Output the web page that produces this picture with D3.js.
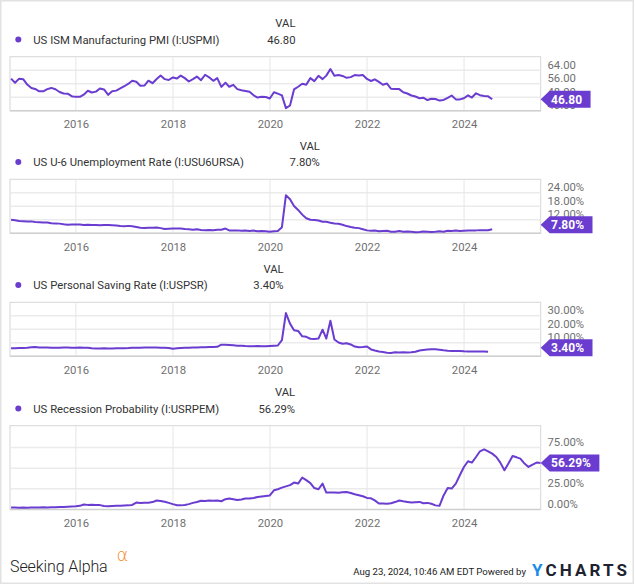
<!DOCTYPE html>
<html><head><meta charset="utf-8">
<script src="https://cdn.jsdelivr.net/npm/d3@7"></script>
<style>
body{margin:0;background:#fff;}
svg{display:block;font-family:Roboto,"Liberation Sans",sans-serif;}
</style>
</head><body>
<svg id="chart" width="635" height="585"></svg>
<script>
// ---------- DATA (monthly, first point = Aug 2014, dated at month end) ----------
const seriesNames = [
  "US ISM Manufacturing PMI (I:USPMI)",
  "US U-6 Unemployment Rate (I:USU6URSA)",
  "US Personal Saving Rate (I:USPSR)",
  "US Recession Probability (I:USRPEM)"
];
const startYear = 2014, startMonth = 7; // August (0-based)
const yearTicks = [2016, 2018, 2020, 2022, 2024];

const pmiValues = [
  59.0, 56.6, 59.0, 58.7, 55.5,
  53.5, 52.9, 51.5, 51.5, 52.8, 53.5, 52.7, 51.1, 50.2, 50.1, 48.6, 48.2,
  48.2, 49.5, 51.8, 50.8, 51.3, 53.2, 52.6, 49.4, 51.5, 51.9, 53.2, 54.5,
  56.0, 57.7, 57.2, 54.8, 54.9, 57.8, 56.3, 58.8, 60.8, 58.7, 58.2, 59.7,
  59.1, 60.8, 59.3, 57.3, 58.7, 60.2, 58.1, 61.3, 59.8, 57.7, 59.3, 54.1,
  56.6, 54.2, 55.3, 52.8, 52.1, 51.7, 51.2, 49.1, 47.8, 48.3, 48.1, 47.2,
  50.9, 50.1, 49.1, 41.5, 43.1, 52.6, 54.2, 56.0, 55.4, 59.3, 57.5, 60.7,
  58.7, 60.8, 64.7, 60.7, 61.2, 60.6, 59.5, 59.9, 61.1, 60.8, 61.1, 58.8,
  57.6, 58.6, 57.1, 55.4, 56.1, 53.0, 52.8, 52.8, 50.9, 50.2, 49.0, 48.4,
  47.4, 47.7, 46.3, 47.1, 46.9, 46.0, 46.4, 47.6, 49.0, 46.7, 46.7, 47.4,
  49.1, 47.8, 50.3, 49.2, 48.7, 48.5, 46.8
];
const u6Values = [
  12.0, 11.8, 11.5, 11.4, 11.2,
  11.3, 11.0, 10.9, 10.8, 10.8, 10.5, 10.4, 10.3, 10.0, 9.8, 9.9, 9.9,
  9.9, 9.7, 9.8, 9.7, 9.7, 9.6, 9.7, 9.7, 9.6, 9.5, 9.2, 9.1,
  9.3, 9.1, 8.8, 8.5, 8.4, 8.5, 8.5, 8.6, 8.3, 7.9, 8.0, 8.1,
  8.1, 8.1, 7.9, 7.8, 7.6, 7.8, 7.5, 7.4, 7.5, 7.4, 7.6, 7.6,
  8.1, 7.3, 7.3, 7.3, 7.1, 7.2, 7.0, 7.2, 6.9, 7.0, 6.9, 6.7,
  6.9, 7.0, 8.7, 22.9, 21.1, 18.1, 16.4, 14.3, 12.7, 12.0, 11.9, 11.7,
  11.1, 11.1, 10.7, 10.4, 10.2, 9.8, 9.2, 8.8, 8.5, 8.3, 7.8, 7.3,
  7.1, 7.2, 6.9, 7.0, 7.1, 6.7, 6.7, 7.0, 6.7, 6.8, 6.7, 6.5,
  6.6, 6.8, 6.7, 6.6, 6.7, 6.9, 6.7, 7.1, 7.0, 7.2, 7.0, 7.1,
  7.2, 7.3, 7.3, 7.4, 7.4, 7.4, 7.8
];
const savingValues = [
  6.0, 6.0, 6.1, 6.1, 6.3,
  6.7, 6.8, 6.6, 6.6, 6.5, 6.4, 6.4, 6.4, 6.5, 6.5, 6.4, 6.4,
  6.5, 6.3, 6.3, 6.0, 5.8, 5.8, 5.9, 5.8, 5.8, 5.9, 6.0, 6.0,
  6.1, 6.3, 6.4, 6.4, 6.5, 6.6, 6.6, 6.5, 6.4, 6.3, 6.1, 5.6,
  5.9, 6.2, 6.3, 6.4, 6.5, 6.6, 6.7, 6.7, 6.8, 6.9, 7.0, 8.6,
  8.5, 8.4, 8.1, 7.8, 7.8, 7.6, 7.5, 7.5, 7.6, 7.5, 7.4, 7.6,
  7.8, 8.0, 12.0, 32.0, 24.2, 19.3, 18.8, 14.8, 14.4, 13.0, 12.8, 13.1,
  19.7, 13.1, 26.3, 12.4, 10.2, 9.3, 9.7, 8.8, 7.2, 6.7, 6.9, 7.3,
  5.1, 4.3, 3.5, 3.1, 2.7, 2.5, 3.0, 2.9, 3.0, 2.9, 3.0, 3.4,
  4.3, 4.6, 5.0, 5.2, 5.2, 4.8, 4.4, 4.1, 4.0, 3.9, 4.0, 3.7,
  3.6, 3.6, 3.5, 3.5, 3.5, 3.4
];
const recessionValues = [
  2.4, 2.3, 2.2, 2.3, 2.2,
  2.3, 2.4, 2.5, 2.6, 2.5, 2.6, 2.8, 3.0, 3.1, 3.3, 3.5, 3.8,
  4.4, 6.0, 5.6, 5.8, 5.5, 5.3, 4.3, 4.0, 4.2, 4.5, 4.6, 4.8,
  5.0, 5.5, 8.4, 8.0, 8.3, 8.2, 9.0, 10.9, 10.3, 9.3, 8.0, 6.5,
  5.2, 5.0, 5.5, 6.5, 8.0, 9.0, 10.5, 10.2, 10.8, 10.6, 10.9, 10.0,
  12.5, 13.3, 12.5, 11.5, 12.2, 13.3, 13.2, 14.0, 15.2, 15.8, 16.4, 17.0,
  23.3, 24.5, 26.5, 28.0, 29.5, 32.6, 31.4, 38.7, 35.5, 32.0, 26.0, 24.5,
  31.4, 20.5, 20.5, 20.6, 20.3, 20.8, 21.3, 20.0, 18.5, 17.3, 16.0, 14.0,
  13.5, 11.0, 7.2, 7.2, 7.0, 7.5, 9.0, 10.9, 10.0, 9.2, 8.5, 8.8,
  9.2, 7.5, 8.0, 7.0, 5.0, 4.4, 17.0, 26.0, 25.4, 31.4, 41.5, 51.5,
  58.4, 56.8, 63.6, 70.5, 72.9, 70.5, 67.7, 63.6, 56.8, 47.5, 55.6, 64.8,
  63.2, 61.6, 55.6, 51.5, 54.4, 56.8, 56.29
];
const pmiTicks = [40, 48, 56, 64];
const u6Ticks = [6, 12, 18, 24];
const savingTicks = [0, 10, 20, 30];
const recessionTicks = [0, 25, 50, 75];
const dateFooter = "Aug 23, 2024, 10:46 AM EDT Powered by";

// ---------- LAYOUT ----------
const W = 635, H = 585;
const plotLeft = 10, plotRight = 540.7;
const purple = "#6a3cd0";
const panels = [
  {name: seriesNames[0], values: pmiValues, ticks: pmiTicks, domain: [40, 72], top: 56.7, h: 54, pct: false},
  {name: seriesNames[1], values: u6Values, ticks: u6Ticks, domain: [6, 30], top: 179.3, h: 54, pct: true},
  {name: seriesNames[2], values: savingValues, ticks: savingTicks, domain: [0, 40], top: 302.3, h: 54, pct: true},
  {name: seriesNames[3], values: recessionValues, ticks: recessionTicks, domain: [0, 101.5], top: 425.7, h: 83.8, pct: true}
];

const svg = d3.select("#chart");
svg.append("rect").attr("x", 0.75).attr("y", 0.75).attr("width", W - 2.5).attr("height", H - 2.5)
  .attr("fill", "#fff").attr("stroke", "#e2e2e2").attr("stroke-width", 1.5);

const x = d3.scaleTime()
  .domain([new Date(2014, 7, 23), new Date(2025, 6, 31)])
  .range([plotLeft, plotRight]);

function monthEnd(i) { return new Date(startYear, startMonth + i + 1, 0); }
const fmt = d3.format(".2f");

panels.forEach((p, pi) => {
  const g = svg.append("g");
  const top = p.top, bottom = p.top + p.h;
  const y = d3.scaleLinear().domain(p.domain).range([bottom, top]);
  const data = p.values.map((v, i) => ({date: monthEnd(i), value: v}));
  const last = data[data.length - 1];
  const valText = fmt(last.value) + (p.pct ? "%" : "");
  const bh = 17;
  const cy = Math.max(top + bh / 2, Math.min(bottom - bh / 2, y(last.value)));

  // legend
  g.append("circle").attr("cx", 18.3).attr("cy", top - 17.3).attr("r", 3).attr("fill", purple);
  const nameT = g.append("text").attr("x", 33.3).attr("y", top - 13.2)
    .attr("font-size", 11.3).attr("fill", "#333").text(p.name);
  const nameEnd = 33.3 + nameT.node().getComputedTextLength();
  const colX = nameEnd + 76;
  g.append("text").attr("x", colX).attr("y", top - 29.4).attr("text-anchor", "end")
    .attr("font-size", 11.3).attr("fill", "#333").text("VAL");
  g.append("text").attr("x", colX).attr("y", top - 13.2).attr("text-anchor", "end")
    .attr("font-size", 11.3).attr("fill", "#333").text(valText);

  // frame background
  g.append("rect").attr("x", plotLeft).attr("y", top).attr("width", plotRight - plotLeft).attr("height", p.h)
    .attr("fill", "#fff").attr("stroke", "#d6d6d6").attr("stroke-width", 1);

  // horizontal gridlines
  g.append("g").selectAll("line").data(p.ticks.filter(t => y(t) > top + 1 && y(t) < bottom - 1)).join("line")
    .attr("x1", plotLeft).attr("x2", plotRight).attr("y1", d => y(d)).attr("y2", d => y(d))
    .attr("stroke", "#ebebeb").attr("stroke-width", 1.5);
  // vertical gridlines
  g.append("g").selectAll("line").data(yearTicks).join("line")
    .attr("x1", d => x(new Date(d, 0, 1))).attr("x2", d => x(new Date(d, 0, 1)))
    .attr("y1", top).attr("y2", bottom)
    .attr("stroke", "#e6e6e6").attr("stroke-width", 1);
  // bottom axis line
  g.append("line").attr("x1", plotLeft).attr("x2", plotRight).attr("y1", bottom).attr("y2", bottom)
    .attr("stroke", "#cfcfcf").attr("stroke-width", 1.5);

  // year labels via axis
  const xAxis = d3.axisBottom(x).tickValues(yearTicks.map(d => new Date(d, 0, 1)))
    .tickFormat(d3.timeFormat("%Y")).tickSize(0).tickPadding(0);
  const ax = g.append("g").attr("transform", `translate(0,${bottom})`).call(xAxis);
  ax.select(".domain").remove();
  ax.selectAll("text").attr("dy", null).attr("y", 17.6).attr("font-size", 11.3)
    .attr("font-family", "Roboto, sans-serif").attr("fill", "#6f6f6f");

  // y tick labels (those entirely hidden behind the value badge are not drawn)
  const shownTicks = p.ticks.filter(t => Math.abs((y(t) - 6) - cy) > 4.5);
  const yAxis = d3.axisRight(y).tickValues(shownTicks)
    .tickFormat(d => fmt(d) + (p.pct ? "%" : "")).tickSize(0).tickPadding(0);
  const ay = g.append("g").attr("transform", `translate(547.5,0)`).call(yAxis);
  ay.select(".domain").remove();
  ay.selectAll("text").attr("dy", null).attr("y", -2).attr("x", 0).attr("font-size", 11.3)
    .attr("font-family", "Roboto, sans-serif").attr("fill", "#6f6f6f");

  // line
  const clipId = "clip" + pi;
  svg.append("clipPath").attr("id", clipId).append("rect")
    .attr("x", plotLeft).attr("y", top - 2).attr("width", plotRight - plotLeft).attr("height", p.h + 4);
  g.append("path").datum(data)
    .attr("clip-path", `url(#${clipId})`)
    .attr("fill", "none").attr("stroke", purple).attr("stroke-width", 2).attr("stroke-linejoin", "round")
    .attr("d", d3.line().x(d => x(d.date)).y(d => y(d.value)));

  // value badge
  const bg = g.append("g");
  const shape = bg.append("path").attr("fill", purple);
  const bt = bg.append("text").attr("x", 551).attr("y", cy + 4.3).attr("font-size", 12)
    .attr("font-weight", "bold").attr("fill", "#fff").text(valText);
  const tw = bt.node().getComputedTextLength();
  const rr = 551 + tw + 8.5;
  shape.attr("d", `M${plotRight},${cy} L${plotRight + 9},${cy - bh / 2} L${rr},${cy - bh / 2} L${rr},${cy + bh / 2} L${plotRight + 9},${cy + bh / 2} Z`);
});

// ---------- FOOTER ----------
svg.append("text").attr("x", 10).attr("y", 572).attr("font-size", 16).attr("fill", "#222")
  .attr("font-family", "Roboto, sans-serif").attr("font-weight", 300).attr("letter-spacing", -0.1).text("Seeking Alpha");
svg.append("text").attr("x", 116.5).attr("y", 560.5).attr("font-size", 18).attr("fill", "#f68b1f")
  .attr("font-family", "'DejaVu Sans', sans-serif").attr("font-weight", 300).text("α");
svg.append("text").attr("x", 526).attr("y", 574.5).attr("text-anchor", "end").attr("font-size", 9.6)
  .attr("fill", "#222").text(dateFooter);
const yc = svg.append("text").attr("x", 532).attr("y", 575.5).attr("font-size", 17)
  .attr("font-weight", "bold").attr("textLength", 95).attr("lengthAdjust", "spacing");
yc.append("tspan").attr("fill", "#1a8be6").text("Y");
yc.append("tspan").attr("fill", "#20232f").text("CHARTS");
</script>
</body></html>
